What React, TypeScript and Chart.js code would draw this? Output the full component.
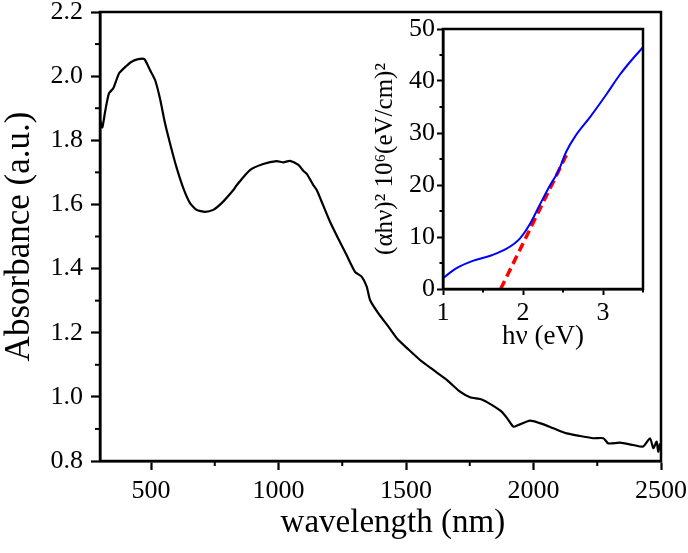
import React, { useEffect, useRef } from "react";
import { Chart, registerables } from "chart.js";

Chart.register(...registerables);

// ---- Main spectrum data ----
const wavelength = [
  300, 309, 320, 335, 352, 375, 398, 424, 450, 474, 496, 516, 535, 555, 578, 601, 627, 653, 679, 712,
  744, 777, 823, 836, 888, 940, 993, 1019, 1045, 1078, 1097, 1111, 1136, 1150, 1169, 1202, 1234, 1267,
  1300, 1326, 1346, 1359, 1391, 1431, 1464, 1508, 1555, 1607, 1660, 1712, 1751, 1797, 1836, 1875, 1897,
  1921, 1940, 1986, 2025, 2078, 2130, 2182, 2234, 2274, 2293, 2339, 2391, 2430, 2457, 2470, 2483, 2489, 2496,
];
const absorbance = [
  1.863, 1.84, 1.889, 1.946, 1.962, 2.009, 2.028, 2.045, 2.053, 2.053, 2.019, 1.988, 1.931, 1.853, 1.78,
  1.713, 1.65, 1.604, 1.583, 1.577, 1.583, 1.604, 1.645, 1.66, 1.707, 1.726, 1.735, 1.731, 1.736, 1.723,
  1.705, 1.695, 1.661, 1.645, 1.609, 1.546, 1.494, 1.442, 1.39, 1.375, 1.344, 1.302, 1.261, 1.219, 1.183,
  1.149, 1.115, 1.084, 1.053, 1.016, 0.999, 0.992, 0.975, 0.954, 0.933, 0.907, 0.912, 0.926, 0.918, 0.902,
  0.886, 0.878, 0.871, 0.871, 0.855, 0.857, 0.85, 0.845, 0.871, 0.84, 0.86, 0.829, 0.855,
];
const xMajorTicks = [500, 1000, 1500, 2000, 2500];
const xMinorTicks = [750, 1250, 1750, 2250];
const yMajorTicks = [0.8, 1.0, 1.2, 1.4, 1.6, 1.8, 2.0, 2.2];
const yMinorTicks = [0.9, 1.1, 1.3, 1.5, 1.7, 1.9, 2.1];

// ---- Inset (Tauc plot) data ----
const photonEnergy = [1.0, 1.17, 1.38, 1.61, 1.8, 1.96, 2.09, 2.21, 2.34, 2.44, 2.54, 2.65, 2.84, 3.05, 3.21, 3.34, 3.5];
const taucValue = [2.1, 4.0, 5.45, 6.5, 7.8, 9.7, 12.6, 16.2, 20.0, 22.6, 26.4, 29.3, 33.1, 37.6, 41.2, 43.7, 46.5];
const fitEnergy = [1.72, 2.55];
const fitValue = [0, 26];
const insetXMajor = [1, 2, 3];
const insetXMinor = [1.5, 2.5, 3.5];
const insetYMajor = [0, 10, 20, 30, 40, 50];
const insetYMinor = [5, 15, 25, 35, 45];

const FONT = "'Liberation Serif', 'Times New Roman', serif";

const framePlugin = {
  id: "frame",
  afterDraw(chart: any, _args: any, opts: any) {
    const { ctx, chartArea: a } = chart;
    ctx.save();
    ctx.strokeStyle = "#000";
    ctx.lineWidth = opts.lineWidth;
    ctx.strokeRect(a.left, a.top, a.right - a.left, a.bottom - a.top);
    ctx.lineWidth = opts.minorWidth;
    const xs = chart.scales.x;
    const ys = chart.scales.y;
    (opts.xMinor || []).forEach((v: number) => {
      const px = xs.getPixelForValue(v);
      ctx.beginPath();
      ctx.moveTo(px, a.bottom);
      ctx.lineTo(px, a.bottom + opts.minorLen);
      ctx.stroke();
    });
    (opts.yMinor || []).forEach((v: number) => {
      const py = ys.getPixelForValue(v);
      ctx.beginPath();
      ctx.moveTo(a.left, py);
      ctx.lineTo(a.left - opts.minorLen, py);
      ctx.stroke();
    });
    ctx.restore();
  },
};

function makeTicks(list: number[]) {
  return (scale: any) => {
    scale.ticks = list.map((v) => ({ value: v }));
  };
}

function fixSize(dim: "width" | "height", size: number) {
  return (s: any) => {
    s[dim] = size;
    s.paddingLeft = 0;
    s.paddingRight = 0;
    s.paddingTop = 0;
    s.paddingBottom = 0;
  };
}

export default function App() {
  const mainRef = useRef<HTMLCanvasElement>(null);
  const insetRef = useRef<HTMLCanvasElement>(null);

  useEffect(() => {
    const main = new Chart(mainRef.current!, {
      type: "line",
      data: {
        datasets: [
          {
            data: wavelength.map((x, i) => ({ x, y: absorbance[i] })),
            borderColor: "#000",
            borderWidth: 2.2,
            pointRadius: 0,
            tension: 0.2,
            fill: false,
          },
        ],
      },
      options: {
        animation: false,
        responsive: false,
        devicePixelRatio: 1,
        layout: { padding: { top: 12, right: 27, left: 0, bottom: 0 } },
        plugins: {
          legend: { display: false },
          tooltip: { enabled: false },
          frame: { lineWidth: 2.5, minorWidth: 2, minorLen: 5, xMinor: xMinorTicks, yMinor: yMinorTicks },
        } as any,
        scales: {
          x: {
            type: "linear",
            min: 300,
            max: 2500,
            afterBuildTicks: makeTicks(xMajorTicks),
            afterFit: fixSize("height", 92),
            grid: { drawOnChartArea: false, tickLength: 9, tickWidth: 2.2, tickColor: "#000" },
            border: { display: true, width: 2.5, color: "#000" },
            ticks: {
              color: "#000",
              font: { family: FONT, size: 26 },
              padding: 6,
              maxRotation: 0,
              autoSkip: false,
              callback: (v: any) => String(v),
            },
            title: {
              display: true,
              text: "   wavelength (nm)",
              color: "#000",
              font: { family: FONT, size: 33 },
              padding: { top: 0, bottom: 10 },
            },
          },
          y: {
            type: "linear",
            min: 0.8,
            max: 2.2,
            afterBuildTicks: makeTicks(yMajorTicks),
            afterFit: fixSize("width", 100),
            grid: { drawOnChartArea: false, tickLength: 9, tickWidth: 2.2, tickColor: "#000" },
            border: { display: true, width: 2.5, color: "#000" },
            ticks: {
              color: "#000",
              font: { family: FONT, size: 26 },
              padding: 8,
              autoSkip: false,
              callback: (v: any) => Number(v).toFixed(1),
            },
            title: {
              display: true,
              text: "Absorbance (a.u.)",
              color: "#000",
              font: { family: FONT, size: 35 },
              padding: { top: -1, bottom: 0 },
            },
          },
        },
      },
      plugins: [framePlugin],
    });

    const inset = new Chart(insetRef.current!, {
      type: "line",
      data: {
        datasets: [
          {
            data: photonEnergy.map((x, i) => ({ x, y: taucValue[i] })),
            borderColor: "#0000ff",
            borderWidth: 2,
            pointRadius: 0,
            cubicInterpolationMode: "monotone",
            fill: false,
          },
          {
            data: fitEnergy.map((x, i) => ({ x, y: fitValue[i] })),
            borderColor: "#ff0000",
            borderWidth: 3.5,
            borderDash: [9, 5],
            pointRadius: 0,
            fill: false,
          },
        ],
      },
      options: {
        animation: false,
        responsive: false,
        devicePixelRatio: 1,
        layout: { padding: { top: 29, right: 45, left: 0, bottom: 0 } },
        plugins: {
          legend: { display: false },
          tooltip: { enabled: false },
          frame: { lineWidth: 2.5, minorWidth: 2, minorLen: 3.5, xMinor: insetXMinor, yMinor: insetYMinor },
        } as any,
        scales: {
          x: {
            type: "linear",
            min: 1,
            max: 3.5,
            afterBuildTicks: makeTicks(insetXMajor),
            afterFit: fixSize("height", 71),
            grid: { drawOnChartArea: false, tickLength: 6, tickWidth: 2, tickColor: "#000" },
            border: { display: true, width: 2.5, color: "#000" },
            ticks: {
              color: "#000",
              font: { family: FONT, size: 26 },
              padding: 3,
              maxRotation: 0,
              autoSkip: false,
              callback: (v: any) => String(v),
            },
            title: {
              display: true,
              text: "hν (eV)",
              color: "#000",
              font: { family: FONT, size: 27 },
              padding: { top: 0, bottom: 7 },
            },
          },
          y: {
            type: "linear",
            min: 0,
            max: 50,
            afterBuildTicks: makeTicks(insetYMajor),
            afterFit: fixSize("width", 103),
            grid: { drawOnChartArea: false, tickLength: 6, tickWidth: 2, tickColor: "#000" },
            border: { display: true, width: 2.5, color: "#000" },
            ticks: {
              color: "#000",
              font: { family: FONT, size: 26 },
              padding: 2,
              autoSkip: false,
              callback: (v: any) => String(v),
            },
            title: {
              display: true,
              text: "(αhν)² 10⁶(eV/cm)²",
              color: "#000",
              font: { family: FONT, size: 25 },
              padding: { top: 30, bottom: 0 },
            },
          },
        },
      },
      plugins: [framePlugin],
    });

    return () => {
      main.destroy();
      inset.destroy();
    };
  }, []);

  return (
    <div style={{ position: "fixed", left: 0, top: 0, width: 688, height: 553, background: "#fff" }}>
      <canvas ref={mainRef} width={688} height={553} style={{ position: "absolute", left: 0, top: 0 }} />
      <canvas ref={insetRef} width={348} height={360} style={{ position: "absolute", left: 340, top: 0 }} />
    </div>
  );
}
